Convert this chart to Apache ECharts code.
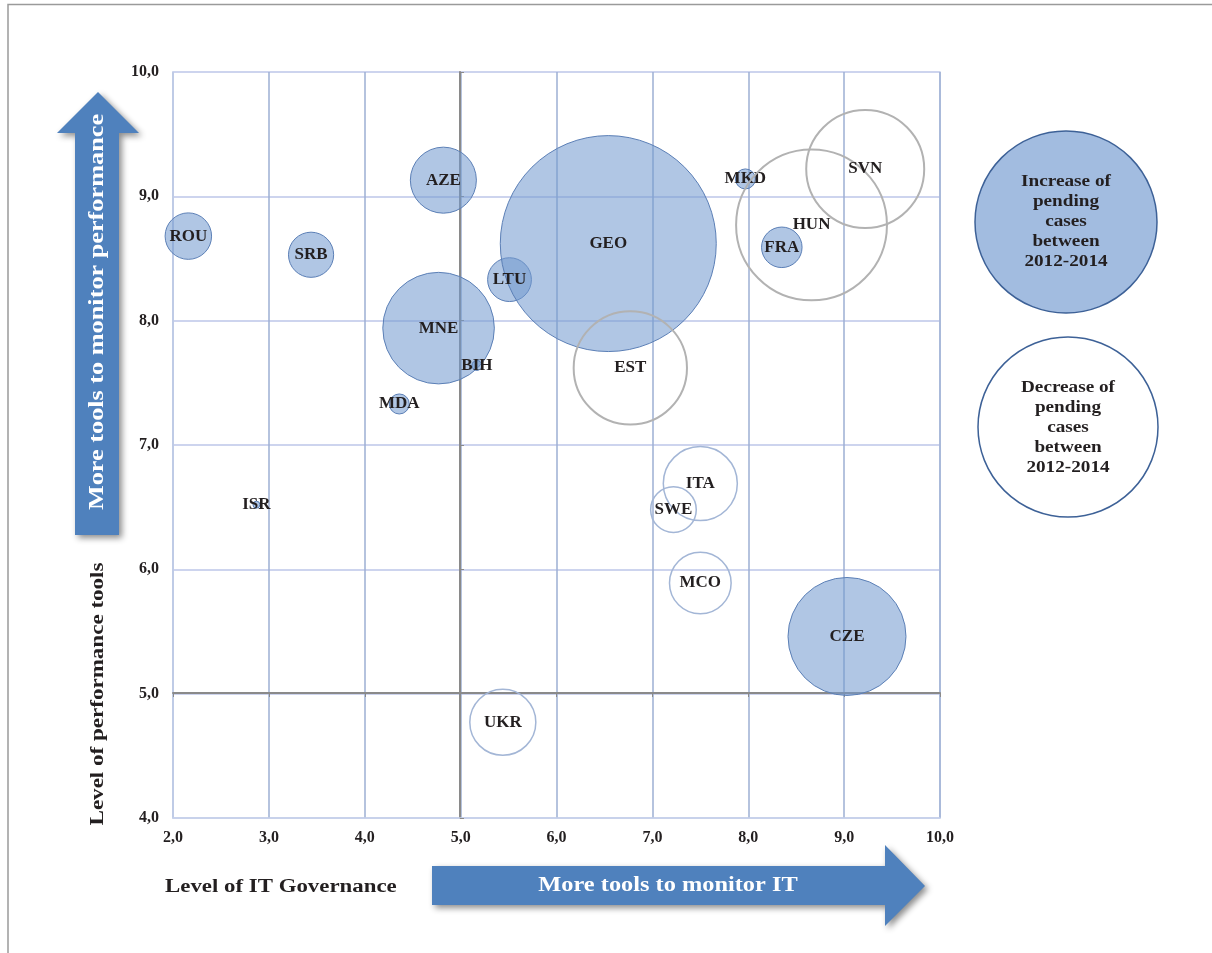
<!DOCTYPE html>
<html>
<head>
<meta charset="utf-8">
<script src="https://cdn.jsdelivr.net/npm/echarts@6/dist/echarts.min.js"></script>
<style>
html,body{margin:0;padding:0;background:#fff;}
#chart{width:1212px;height:953px;}
</style>
</head>
<body>
<div id="chart"></div>
<script>
// ---- data ----
const countries = ['ROU','SRB','AZE','MNE','BIH','MDA','ISR','UKR','LTU','GEO','EST','MKD','HUN','FRA','SVN','ITA','SWE','MCO','CZE'];
const itGovernance = [2.16,3.44,4.82,4.77,5.17,4.36,2.87,5.44,5.51,6.54,6.77,7.97,8.66,8.35,9.22,7.50,7.22,7.50,9.03];
const performanceTools = [8.68,8.53,9.13,7.94,7.64,7.33,6.52,4.77,8.33,8.62,7.62,9.14,8.77,8.59,9.22,6.69,6.48,5.89,5.46];
const bubbleSize = [5.4,5.1,10.9,31.1,0.25,1.0,0.12,10.9,4.8,116.6,32.1,1.0,56.9,4.1,34.8,13.7,5.2,9.5,34.8];
const pendingTrend = ['increase','increase','increase','increase','increase','increase','increase','decrease','increase','increase','decrease','increase','decrease','increase','decrease','decrease','decrease','decrease','increase'];
const legendIncrease = ['Increase of','pending','cases','between','2012-2014'];
const legendDecrease = ['Decrease of','pending','cases','between','2012-2014'];

// ---- styling helpers (not data) ----
const serif = '"Liberation Serif","Times New Roman",serif';
const grayOutlined = ['EST','HUN','SVN'];
function fmt(v){ return v.toFixed(1).replace('.', ','); }

function buildSeries(kind){
  const out = [];
  countries.forEach((c,i)=>{
    if (pendingTrend[i] !== kind) return;
    const item = { name: c, value: [itGovernance[i], performanceTools[i], bubbleSize[i]] };
    if (kind === 'decrease') {
      const gray = grayOutlined.indexOf(c) >= 0;
      item.itemStyle = { color: 'rgba(255,255,255,0)', opacity: 1, borderColor: gray ? '#b2b2b2' : '#a3b6d6', borderWidth: gray ? 2 : 1.5 };
    }
    out.push(item);
  });
  return out;
}

const chart = echarts.init(document.getElementById('chart'), null, {renderer:'canvas'});

const labelStyle = {
  show: true, position: 'inside',
  formatter: p => p.name,
  color: '#231f20', fontFamily: serif, fontWeight: 'bold', fontSize: 17,
  textBorderWidth: 0, textBorderColor: 'transparent'
};

const arrowColor = '#4f81bd';
const shadow = { shadowBlur: 6, shadowColor: 'rgba(0,0,0,0.45)', shadowOffsetX: 3, shadowOffsetY: 3 };

chart.setOption({
  animation: false,
  backgroundColor: '#ffffff',
  grid: { left: 173, right: 272, top: 72, bottom: 135, show: true, borderColor: '#c6d1ea', borderWidth: 1.5, containLabel: false },
  xAxis: [
    {
      type: 'value', min: 2, max: 10, interval: 1, position: 'bottom',
      axisLine: { show: true, lineStyle: { color: '#c6d1ea', width: 1.5 } },
      axisTick: { show: false },
      axisLabel: { formatter: v => fmt(v), color: '#231f20', fontFamily: serif, fontWeight: 'bold', fontSize: 16, margin: 12 },
      splitLine: { show: true, lineStyle: { color: '#9dafd3', width: 1.5 } }
    },
    {
      type: 'value', min: 2, max: 10, interval: 1, position: 'bottom', offset: -125,
      axisLine: { show: true, lineStyle: { color: '#8a8a8a', width: 2 } },
      axisTick: { show: true, inside: false, length: 4, lineStyle: { color: '#8a8a8a', width: 1 } },
      axisLabel: { show: false },
      splitLine: { show: false }
    }
  ],
  yAxis: [
    {
      type: 'value', min: 4, max: 10, interval: 1, position: 'left',
      axisLine: { show: true, lineStyle: { color: '#c6d1ea', width: 1.5 } },
      axisTick: { show: false },
      axisLabel: { formatter: v => fmt(v), color: '#231f20', fontFamily: serif, fontWeight: 'bold', fontSize: 16, margin: 14 },
      splitLine: { show: true, lineStyle: { color: '#cdd4ee', width: 2 } }
    },
    {
      type: 'value', min: 4, max: 10, interval: 1, position: 'left', offset: -287,
      axisLine: { show: true, lineStyle: { color: '#8a8a8a', width: 2 } },
      axisTick: { show: true, inside: true, length: 4, lineStyle: { color: '#8a8a8a', width: 1 } },
      axisLabel: { show: false },
      splitLine: { show: false }
    }
  ],
  series: [
    {
      name: 'Increase of pending cases between 2012-2014',
      type: 'scatter', xAxisIndex: 0, yAxisIndex: 0,
      symbolSize: d => 20 * Math.sqrt(d[2]),
      data: buildSeries('increase'),
      itemStyle: { color: 'rgba(115,153,207,0.56)', opacity: 1, borderColor: '#5b7fb6', borderWidth: 1 },
      label: labelStyle,
      emphasis: { disabled: true },
      z: 3
    },
    {
      name: 'Decrease of pending cases between 2012-2014',
      type: 'scatter', xAxisIndex: 0, yAxisIndex: 0,
      symbolSize: d => 20 * Math.sqrt(d[2]),
      data: buildSeries('decrease'),
      itemStyle: { color: 'rgba(255,255,255,0)', opacity: 1, borderColor: '#a3b6d6', borderWidth: 1.5 },
      label: labelStyle,
      emphasis: { disabled: true },
      z: 4
    }
  ],
  graphic: [
    // outer frame
    { type: 'polyline', shape: { points: [[8, 953],[8, 4.5],[1212, 4.5]] }, style: { stroke: '#9a9a9a', lineWidth: 1.5, fill: null }, silent: true },
    // vertical arrow
    { type: 'polygon', shape: { points: [[75,535],[75,133],[57,133],[98,92],[139,133],[119,133],[119,535]] },
      style: Object.assign({ fill: arrowColor }, shadow), silent: true, z: 10 },
    { type: 'text', x: 98, y: 312, rotation: Math.PI/2, scaleX: 1.25, z: 11,
      style: { text: 'More tools to monitor performance', fill: '#ffffff', font: 'bold 21px ' + serif, align: 'center', verticalAlign: 'middle' } },
    // horizontal arrow
    { type: 'polygon', shape: { points: [[432,866],[885,866],[885,845],[925,886],[885,926],[885,905],[432,905]] },
      style: Object.assign({ fill: arrowColor }, shadow), silent: true, z: 10 },
    { type: 'text', x: 668, y: 886, scaleX: 1.16, z: 11,
      style: { text: 'More tools to monitor IT', fill: '#ffffff', font: 'bold 21px ' + serif, align: 'center', verticalAlign: 'middle' } },
    // axis titles
    { type: 'text', x: 98, y: 694, rotation: Math.PI/2, scaleX: 1.28, z: 11,
      style: { text: 'Level of performance tools', fill: '#231f20', font: 'bold 18px ' + serif, align: 'center', verticalAlign: 'middle' } },
    { type: 'text', x: 165, y: 887, scaleX: 1.27, z: 11,
      style: { text: 'Level of IT Governance', fill: '#231f20', font: 'bold 18px ' + serif, align: 'left', verticalAlign: 'middle' } },
    // legend circles
    { type: 'circle', shape: { cx: 1066, cy: 222, r: 91 }, style: { fill: '#a2bce0', stroke: '#3d6197', lineWidth: 1.5 }, z: 10 },
    { type: 'text', x: 1066, y: 222, scaleX: 1.2, z: 11,
      style: { text: legendIncrease.join('\n'), fill: '#231f20', font: 'bold 16px ' + serif, align: 'center', verticalAlign: 'middle', lineHeight: 20 } },
    { type: 'circle', shape: { cx: 1068, cy: 427, r: 90 }, style: { fill: '#ffffff', stroke: '#3d6197', lineWidth: 1.5 }, z: 10 },
    { type: 'text', x: 1068, y: 428, scaleX: 1.2, z: 11,
      style: { text: legendDecrease.join('\n'), fill: '#231f20', font: 'bold 16px ' + serif, align: 'center', verticalAlign: 'middle', lineHeight: 20 } }
  ]
});
</script>
</body>
</html>
